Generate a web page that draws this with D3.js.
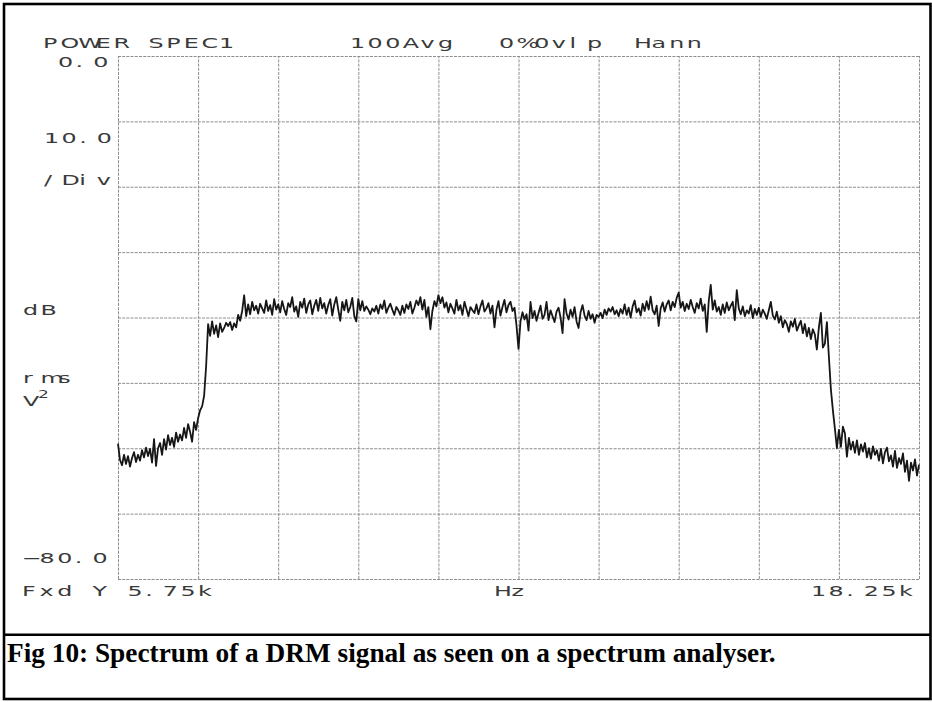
<!DOCTYPE html>
<html>
<head>
<meta charset="utf-8">
<script src="https://cdn.jsdelivr.net/npm/d3@7"></script>
<style>
  html, body { margin: 0; padding: 0; background: #fff; }
  svg { display: block; }
</style>
</head>
<body>
<svg id="fig" width="932" height="702"></svg>
<script>
// Analyser settings
const freqRange = [5750, 18250];   // Hz, start / stop
const binWidth = 31.25;            // Hz per line (400 lines over 12.5 kHz)
const dbRange = [0, -80];          // top / bottom of screen, dB
const dbPerDiv = 10;
const freqPerDiv = 1250;

// Screen annotations
const headerLabels = ["POWER SPEC1", "100Avg", "0%0vlp", "Hann"];
const scaleLabels = ["0.0", "10.0", "/Div", "dB", "rms", "\u221280.0"];
const unitLabel = ["V", "2"];
const footerLabels = ["Fxd Y 5.75k", "Hz", "18.25k"];
const caption = "Fig 10: Spectrum of a DRM signal as seen on a spectrum analyser.";

// Averaged power spectrum, dB rms V^2, one value per analyser line
const powerDb = [
  -59.3, -61.8, -62.6, -61.0, -62.4, -61.2, -62.8, -61.5, -60.6, -62.1, -61.0, -61.9, -60.3, -61.4, -59.9, -61.2, -60.1, -62.2, -58.6, -62.7,
  -60.0, -59.2, -61.0, -58.6, -60.2, -58.0, -59.5, -58.4, -59.8, -57.6, -59.0, -57.9, -58.8, -56.9, -58.4, -56.3, -57.5, -59.0, -56.0, -57.2,
  -55.4, -54.2, -53.6, -52.0, -47.5, -41.0, -42.8, -40.6, -42.5, -41.2, -43.0, -40.9, -42.2, -41.6, -40.8, -41.3, -40.7, -41.9, -40.9, -41.5,
  -39.6, -40.5, -39.0, -36.6, -39.8, -38.0, -39.5, -37.6, -38.9, -38.2, -39.4, -37.9, -38.6, -39.3, -37.4, -39.0, -38.1, -39.6, -37.2, -38.8,
  -38.0, -39.2, -37.5, -38.7, -39.6, -37.8, -38.4, -36.9, -39.1, -38.3, -39.9, -37.6, -38.5, -37.1, -39.3, -38.0, -37.4, -39.5, -38.2, -37.3,
  -39.0, -37.0, -38.6, -37.8, -39.4, -38.1, -37.2, -39.7, -38.0, -36.9, -38.8, -40.5, -37.6, -38.9, -37.3, -39.2, -38.4, -37.0, -39.8, -40.6,
  -37.2, -38.9, -37.5, -39.0, -38.3, -38.8, -39.5, -38.6, -39.1, -38.2, -39.4, -38.0, -38.7, -37.4, -39.3, -38.5, -37.9, -38.8, -39.6, -38.4,
  -38.9, -39.6, -38.2, -39.3, -38.0, -38.7, -37.6, -39.4, -38.5, -37.4, -38.1, -36.9, -38.8, -37.3, -39.9, -38.4, -41.8, -39.0, -37.5, -38.3,
  -36.6, -37.8, -36.9, -38.5, -37.7, -39.2, -37.9, -38.6, -39.4, -37.3, -38.9, -38.1, -39.6, -37.6, -38.7, -39.8, -38.4, -38.9, -39.3, -38.0,
  -39.5, -38.3, -37.4, -39.1, -38.6, -37.8, -39.4, -38.2, -41.5, -38.8, -37.5, -39.7, -38.4, -37.3, -39.2, -38.1, -37.6, -39.0, -38.5, -41.2,
  -44.8, -40.6, -39.2, -40.3, -39.5, -42.0, -37.6, -40.1, -39.0, -40.5, -39.3, -38.2, -40.2, -39.6, -37.6, -40.4, -38.9, -39.8, -40.7, -39.1,
  -38.5, -40.0, -42.4, -37.2, -39.4, -40.3, -38.8, -39.9, -38.4, -40.6, -41.6, -39.2, -38.1, -39.7, -40.4, -39.0, -40.2, -39.5, -40.8, -39.6,
  -39.9, -39.3, -40.1, -38.8, -39.6, -38.6, -39.1, -38.4, -39.5, -38.9, -39.8, -38.7, -39.4, -38.0, -39.6, -38.5, -40.0, -38.3, -37.4, -39.2,
  -38.6, -39.7, -37.9, -39.0, -37.5, -38.8, -36.8, -38.9, -39.5, -38.2, -41.3, -38.6, -37.7, -39.1, -38.0, -37.4, -38.9, -37.6, -38.4, -37.0,
  -36.2, -38.5, -37.6, -39.0, -37.9, -38.7, -37.3, -38.4, -39.3, -37.8, -38.6, -37.1, -39.0, -38.0, -42.2, -37.5, -35.0, -38.8, -37.4, -39.1,
  -38.4, -39.6, -38.0, -39.3, -37.7, -38.9, -38.2, -37.6, -40.4, -35.8, -38.6, -39.5, -38.3, -39.8, -38.9, -39.4, -38.1, -40.1, -38.7, -39.6,
  -38.5, -39.9, -38.8, -39.4, -40.2, -38.9, -37.6, -39.7, -40.3, -39.1, -40.8, -39.8, -41.5, -40.4, -41.0, -42.2, -40.6, -41.4, -40.2, -42.0,
  -41.2, -40.5, -42.4, -41.0, -42.9, -41.6, -43.3, -41.8, -42.6, -44.9, -41.5, -39.3, -44.6, -44.0, -40.7, -46.0, -51.0, -54.2, -57.0, -60.0,
  -57.2, -59.8, -56.7, -57.7, -61.3, -58.4, -60.2, -59.0, -60.7, -58.8, -61.0, -59.4, -60.5, -59.2, -61.4, -60.0, -61.6, -59.7, -61.0, -60.3,
  -61.9, -60.1, -62.3, -60.6, -59.9, -62.0, -61.1, -62.8, -60.4, -63.0, -61.5, -62.4, -60.8, -63.6, -61.9, -65.0, -62.2, -63.4, -61.7, -64.2,
  -62.5
];

const svg = d3.select("#fig");
const plot = { left: 118, right: 919, top: 56, bottom: 579 };

const x = d3.scaleLinear().domain(freqRange).range([plot.left, plot.right]);
const y = d3.scaleLinear().domain(dbRange).range([plot.top, plot.bottom]);

// Page frame with caption panel
svg.append("rect")
  .attr("x", 4).attr("y", 4).attr("width", 926.5).attr("height", 695)
  .attr("fill", "none").attr("stroke", "#000").attr("stroke-width", 2.6);
svg.append("line")
  .attr("x1", 4).attr("x2", 930.5).attr("y1", 634.8).attr("y2", 634.8)
  .attr("stroke", "#000").attr("stroke-width", 2.6);

// Graticule, drawn as full-length axis ticks
const xTicks = d3.range(freqRange[0], freqRange[1] + 1, freqPerDiv);
const yTicks = d3.range(dbRange[1], dbRange[0] + 1, dbPerDiv);

const gridStyle = g => {
  g.select(".domain").remove();
  g.selectAll(".tick line")
    .attr("stroke", "#8e8e8e")
    .attr("stroke-width", 1)
    .attr("stroke-dasharray", "3 1.2");
  g.selectAll(".tick text").remove();
};

svg.append("g")
  .attr("transform", `translate(0,${plot.bottom})`)
  .call(d3.axisBottom(x).tickValues(xTicks).tickSize(-(plot.bottom - plot.top)).tickFormat(""))
  .call(gridStyle);

svg.append("g")
  .attr("transform", `translate(${plot.left},0)`)
  .call(d3.axisLeft(y).tickValues(yTicks).tickSize(-(plot.right - plot.left)).tickFormat(""))
  .call(gridStyle);

// Spectrum trace
const line = d3.line()
  .x((d, i) => x(freqRange[0] + i * binWidth))
  .y(d => y(d));

svg.append("path")
  .datum(powerDb)
  .attr("d", line)
  .attr("fill", "none")
  .attr("stroke", "#161616")
  .attr("stroke-width", 1.8)
  .attr("stroke-linejoin", "round");

// Plotter lettering: fixed character pitch, wide glyphs
const pitch = 17.6;
const stretch = 1.7;
const fontSize = 14;
const textColor = "#3a3a3a";

function plotterText(str, x0, yBase) {
  const xs = Array.from(str).map((c, i) => (i * pitch / stretch).toFixed(2)).join(" ");
  return svg.append("text")
    .attr("transform", `translate(${x0},${yBase}) scale(${stretch},1)`)
    .attr("x", xs)
    .attr("y", 0)
    .attr("font-family", "'DejaVu Sans', sans-serif")
    .attr("font-size", fontSize)
    .attr("fill", textColor)
    .text(str);
}

const headerPos = [[43, 48], [350, 48], [499, 48], [634, 48]];
headerLabels.forEach((t, i) => plotterText(t, headerPos[i][0], headerPos[i][1]));

const scalePos = [[58, y(0) + 11], [44, 143], [44, 185], [23, 315], [23, 383], [22, y(-80) - 16]];
scaleLabels.forEach((t, i) => plotterText(t, scalePos[i][0], scalePos[i][1]));

// V with raised 2
const unit = svg.append("text")
  .attr("transform", `translate(23,406) scale(${stretch},1)`)
  .attr("font-family", "'DejaVu Sans', sans-serif")
  .attr("font-size", fontSize)
  .attr("fill", textColor);
unit.append("tspan").attr("x", 0).attr("y", 0).text(unitLabel[0]);
unit.append("tspan").attr("x", 15 / stretch).attr("y", -8).attr("font-size", 10).text(unitLabel[1]);

const footerPos = [[22, 596], [494, 596], [811, 596]];
footerLabels.forEach((t, i) => plotterText(t, footerPos[i][0], footerPos[i][1]));

// Caption
svg.append("text")
  .attr("x", 7)
  .attr("y", 662)
  .attr("font-family", "'Liberation Serif', 'Times New Roman', serif")
  .attr("font-weight", "bold")
  .attr("font-size", 27.3)
  .attr("fill", "#000")
  .text(caption);
</script>
</body>
</html>
